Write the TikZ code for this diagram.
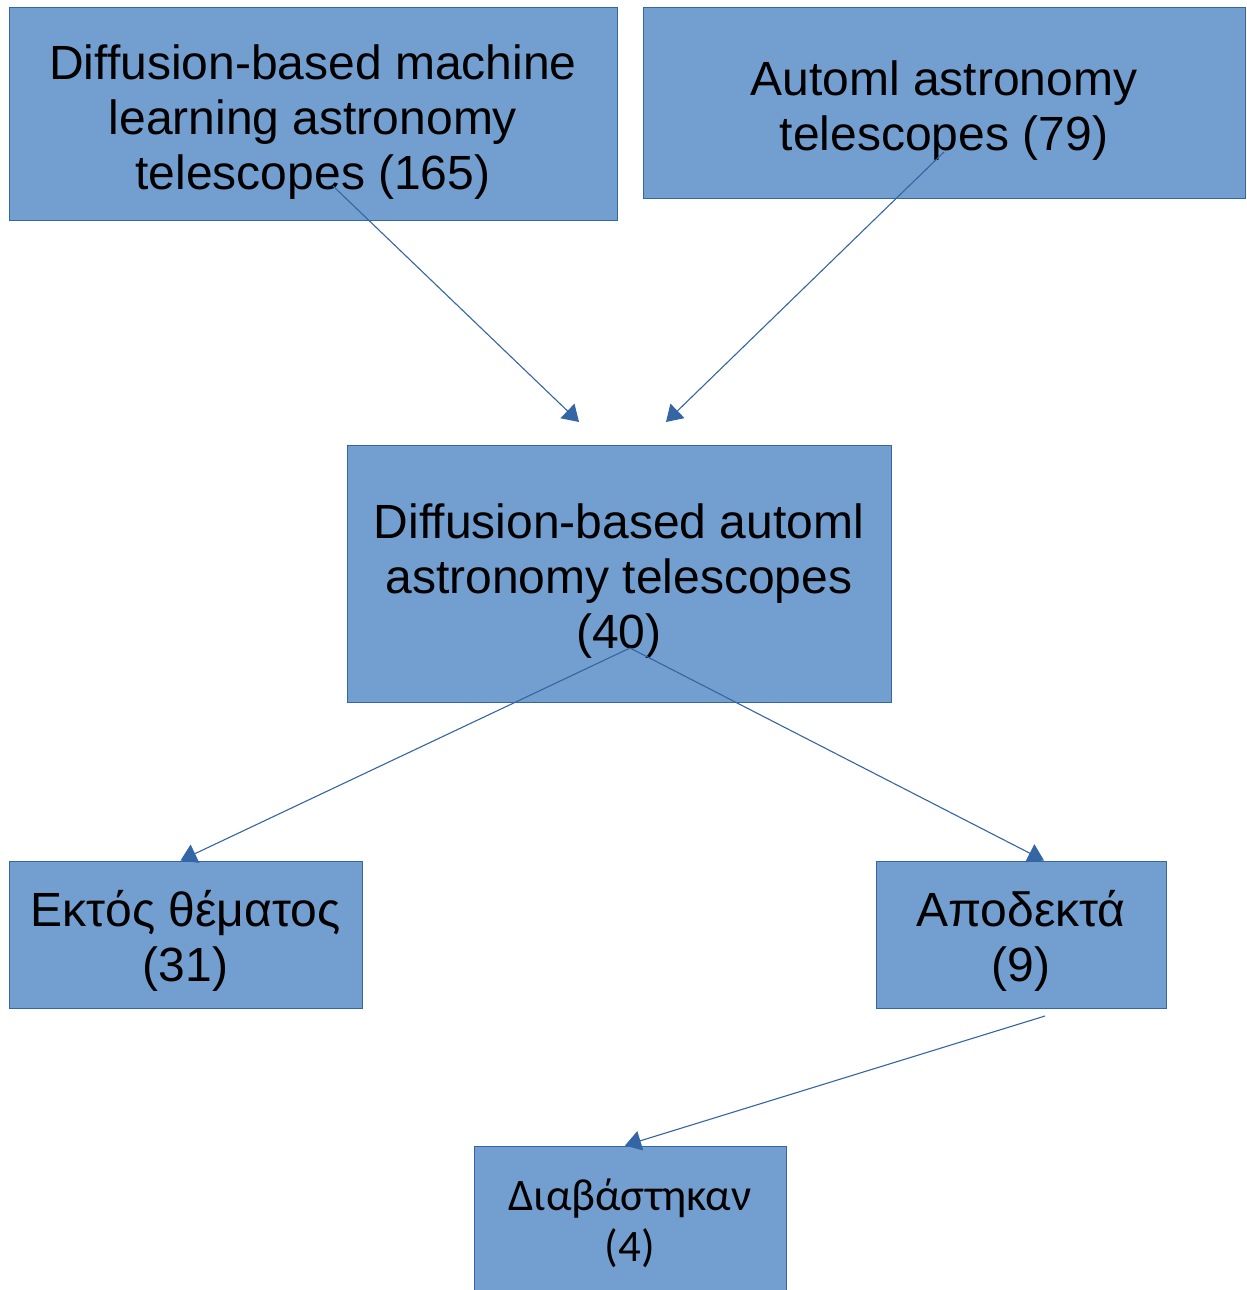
\documentclass[tikz,border=0pt]{standalone}
\usepackage{fontspec}
\setmainfont{Liberation Sans}
\newfontfamily\calfont{Carlito}
\usetikzlibrary{arrows.meta}
\definecolor{boxfill}{HTML}{729FCF}
\definecolor{boxline}{HTML}{3465A4}
\newcommand{\topgap}[1]{\rule{0pt}{#1}}
\begin{document}
\begin{tikzpicture}[x=1pt, y=-1pt,
    block/.style={rectangle, draw=boxline, line width=1pt, fill=boxfill, align=center, inner sep=0pt,
        font=\fontsize{48}{55}\selectfont},
    line/.style={draw=boxline, line width=1.1pt, -{Triangle[length=16pt, width=20pt]}}
]
    \useasboundingbox (0,0) rectangle (1247,1290);

    \node [block, minimum width=608pt, minimum height=212pt] (diffml) at (313,114) {\topgap{50pt}Diffusion-based machine\\learning astronomy\\telescopes (165)};
    \node [block, minimum width=602pt, minimum height=190pt] (automl) at (944,103) {\topgap{50pt}Automl astronomy\\telescopes (79)};
    \node [block, minimum width=544pt, minimum height=257pt] (both) at (619,573.5) {\topgap{50pt}Diffusion-based automl\\astronomy telescopes\\(40)};
    \node [block, minimum width=353pt, minimum height=147pt] (offtopic) at (185.5,934.5) {\topgap{48pt}Εκτός θέματος\\(31)};
    \node [block, minimum width=290pt, minimum height=147pt] (accepted) at (1021,934.5) {\topgap{48pt}Αποδεκτά\\(9)};
    \node [block, minimum width=312pt, minimum height=144pt, font=\calfont\fontsize{45}{51}\selectfont] (read) at (630,1218) {\topgap{42pt}Διαβάστηκαν\\(4)};

    \coordinate (diffout) at (333,186);
    \coordinate (automlout) at (944,152);
    \coordinate (bothin1) at (579,422);
    \coordinate (bothin2) at (666,422);
    \coordinate (bothout) at (630,648);
    \coordinate (accout) at (1045,1016);

    \draw [line] (diffout) -- (bothin1);
    \draw [line] (automlout) -- (bothin2);
    \draw [line] (bothout) -- ([xshift=-5pt]offtopic.north);
    \draw [line] (bothout) -- ([xshift=23pt]accepted.north);
    \draw [line] (accout) -- ([xshift=-5pt]read.north);
\end{tikzpicture}
\end{document}
